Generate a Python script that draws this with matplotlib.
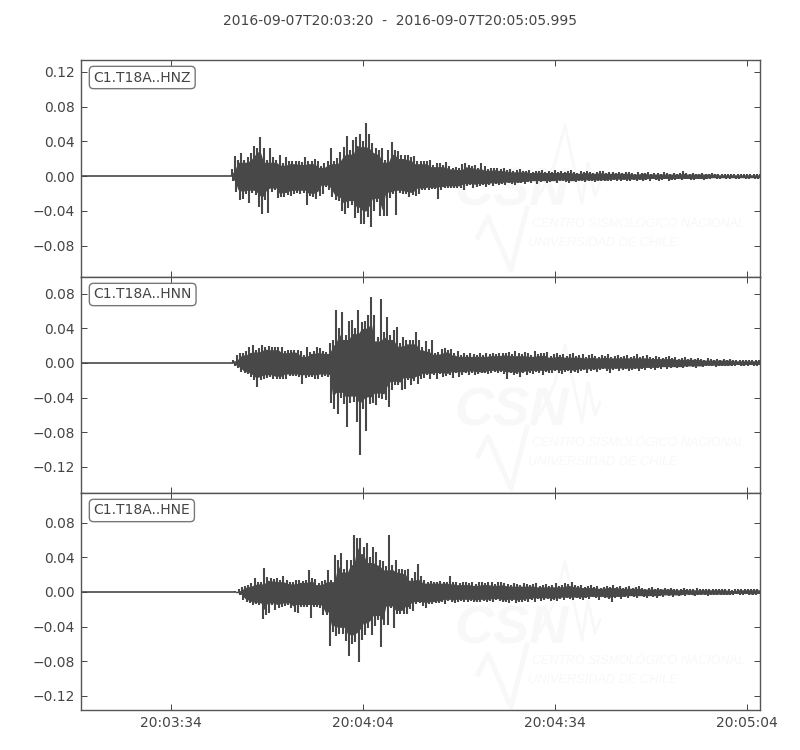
import numpy as np
import matplotlib
matplotlib.use('Agg')
import matplotlib.pyplot as plt
from matplotlib.lines import Line2D
import matplotlib.ticker as ticker

title = '2016-09-07T20:03:20  -  2016-09-07T20:05:05.995'
channels = ['C1.T18A..HNZ', 'C1.T18A..HNN', 'C1.T18A..HNE']

# peak amplitudes, in 1e-3 units, one pair every 0.5 s after onset
z_up = [8, 23, 19, 27, 19, 22, 27, 35, 33, 45, 33, 19, 33, 22, 19, 25, 15, 22, 17, 18,
        17, 18, 16, 22, 18, 17, 20, 17, 12, 15, 17, 33, 17, 21, 28, 34, 46, 30, 42, 45,
        49, 40, 61, 49, 38, 33, 30, 32, 19, 30, 39, 30, 29, 24, 25, 24, 22, 23, 17, 17,
        17, 17, 19, 13, 15, 15, 13, 16, 12, 10, 11, 9, 14, 15, 13, 12, 13, 10, 15, 12,
        8, 10, 9, 10,
        8, 9, 7, 8, 6, 7, 8, 6, 6, 7, 5, 6, 6, 7, 5, 6, 5, 7, 5, 6, 5, 6, 7, 5, 4, 6,
        5, 6, 5, 4, 5, 6, 6, 4, 5, 5, 4, 5, 4, 5, 5, 4, 3, 5, 4, 4, 5, 3, 4, 4, 3, 5,
        4, 3, 4, 3, 4, 6, 4, 3, 4, 3, 3, 4, 3, 3, 4, 3, 3, 2, 3, 3, 2, 3, 3, 2, 3, 3, 2, 3, 2, 3,
        3, 2, 3, 3, 2, 3]
z_lo = [-6, -18, -27, -26, -20, -31, -19, -22, -35, -44, -27, -42, -18, -16, -25, -24, -24, -22, -23, -20,
        -19, -20, -19, -33, -23, -24, -26, -23, -20, -12, -16, -24, -27, -29, -40, -43, -37, -33, -48, -42,
        -55, -55, -47, -58, -40, -30, -46, -46, -46, -25, -21, -45, -19, -20, -21, -24, -22, -23, -20, -16,
        -16, -16, -15, -15, -26, -16, -14, -14, -13, -14, -14, -13, -16, -11, -10, -13, -12, -11, -10, -12,
        -10, -11, -9, -10,
        -9, -10, -8, -9, -10, -8, -8, -9, -7, -8, -6, -9, -7, -6, -8, -7, -6, -8, -6, -5, -7, -8, -6, -7, -6, -5,
        -7, -5, -6, -7, -5, -6, -5, -5, -6, -4, -5, -6, -4, -5, -6, -4, -5, -4, -5, -4, -5, -3, -4, -5, -4, -3,
        -5, -4, -4, -3, -4, -3, -3, -4, -4, -3, -3, -4, -3, -3, -2, -3, -3, -2, -3, -3, -2, -3, -3, -2, -3, -3,
        -2, -3, -3, -2, -3, -2, -3, -3, -2, -3]

n_up = [3, 9, 12, 11, 14, 19, 21, 15, 17, 21, 19, 20, 18, 19, 18, 19, 14, 15, 15, 15,
        15, 14, 9, 19, 13, 14, 18, 17, 14, 13, 23, 27, 61, 40, 59, 32, 48, 50, 40, 61,
        47, 48, 55, 76, 55, 30, 74, 36, 53, 32, 38, 42, 23, 30, 27, 26, 27, 36, 26, 18,
        25, 16, 26, 12, 13, 16, 17, 15, 16, 11, 14, 9, 12, 9, 11, 10, 9, 11, 9, 11, 10, 12, 10, 11,
        12, 11, 13, 10, 14, 11, 10, 13, 12, 9, 14, 10, 12, 11, 13, 8, 10, 12, 9, 10, 8, 10,
        11, 8, 9, 10, 7, 9, 10, 8, 7, 9, 8, 10, 7, 8, 9, 7, 8, 9, 7, 8, 10, 7, 8, 9, 7, 6,
        8, 7, 6, 7, 8, 6, 7, 5, 6, 7, 5, 6, 5, 6, 5, 4, 6, 5, 4, 5, 4, 5, 4, 5, 4, 3, 4, 4, 3, 4,
        4, 3, 4, 3, 4, 3, 3, 4, 3, 3]
n_lo = [-3, -6, -10, -12, -13, -16, -20, -28, -20, -19, -17, -16, -19, -18, -19, -18, -19, -15, -15, -15,
        -16, -24, -17, -16, -16, -18, -19, -16, -15, -16, -46, -53, -59, -40, -47, -74, -46, -45, -68, -106,
        -53, -79, -47, -46, -49, -41, -42, -43, -51, -31, -25, -26, -31, -30, -20, -25, -21, -24, -18, -17,
        -14, -18, -14, -18, -13, -16, -15, -14, -17, -12, -16, -14, -12, -14, -11, -14, -13, -12, -12, -13, -11, -10, -12, -10,
        -13, -18, -12, -14, -13, -16, -12, -14, -11, -13, -10, -12, -14, -10, -12, -11, -9, -11, -13, -10, -9, -11,
        -10, -12, -9, -8, -11, -9, -8, -10, -8, -7, -9, -11, -8, -7, -9, -8, -7, -9, -8, -7, -9, -7, -8, -6, -7, -8,
        -6, -7, -5, -7, -6, -5, -6, -5, -6, -5, -4, -5, -6, -4, -5, -4, -3, -4, -5, -3, -4, -3, -3, -4, -3, -2, -3, -3,
        -3, -2, -3, -3, -2, -3, -3, -2, -3, -2]

e_up = [1, 3, 6, 7, 8, 10, 16, 12, 11, 28, 17, 16, 15, 16, 14, 18, 14, 12, 11, 14,
        14, 13, 14, 25, 16, 15, 10, 13, 14, 25, 14, 43, 37, 45, 27, 37, 37, 66, 62, 62,
        52, 57, 40, 52, 46, 37, 36, 30, 66, 31, 37, 27, 27, 25, 27, 16, 23, 32, 18, 14,
        12, 13, 12, 12, 13, 12, 12, 18, 11, 12, 10, 11, 12, 10, 11, 9, 11, 12, 10, 11, 12, 9, 11, 12,
        10, 9, 8, 10, 9, 8, 10, 9, 8, 9, 10, 7, 8, 9, 7, 8, 10, 7, 8, 10, 9, 11, 8, 7,
        8, 6, 7, 8, 6, 7, 5, 6, 7, 6, 8, 6, 7, 5, 6, 7, 5, 6, 7, 5, 4, 5, 6, 4, 5, 4,
        5, 4, 5, 4, 3, 4, 5, 4, 3, 4, 5, 3, 4, 3, 4, 3, 4, 3, 3, 4, 3, 2, 4, 3, 3, 4, 3, 4,
        3, 4, 3, 3, 4, 3, 3, 4, 3, 3]
e_lo = [-1, -4, -9, -11, -13, -15, -14, -15, -31, -27, -24, -15, -21, -18, -17, -16, -15, -19, -23, -24,
        -17, -17, -17, -30, -17, -17, -18, -27, -27, -62, -46, -51, -49, -48, -57, -74, -60, -58, -81, -55,
        -50, -42, -50, -39, -32, -64, -38, -38, -19, -42, -25, -26, -25, -25, -20, -22, -14, -13, -16, -18,
        -14, -14, -13, -13, -12, -14, -10, -11, -13, -12, -10, -12, -11, -10, -12, -11, -11, -10, -12, -10, -11, -9, -10, -12,
        -11, -13, -10, -13, -11, -12, -10, -11, -9, -11, -8, -10, -9, -8, -10, -9, -10, -8, -9, -7, -8, -9, -7, -8,
        -9, -7, -8, -6, -7, -9, -6, -7, -8, -11, -7, -6, -8, -6, -7, -5, -6, -7, -5, -6, -7, -5, -6, -7, -5, -6, -4,
        -5, -6, -4, -5, -4, -5, -3, -4, -5, -4, -3, -4, -5, -3, -4, -3, -4, -3, -3, -4, -3, -2, -3, -3, -2, -3, -3,
        -3, -2, -3, -3, -2, -3, -2, -3, -3, -2]

traces_up = [z_up, n_up, e_up]
traces_lo = [z_lo, n_lo, e_lo]
onsets = [23.5, 23.8, 24.1]
ylims = [(-0.116, 0.1338), (-0.1503, 0.0994), (-0.1362, 0.1142)]
yticks = [[-0.08, -0.04, 0.0, 0.04, 0.08, 0.12],
          [-0.12, -0.08, -0.04, 0.0, 0.04, 0.08],
          [-0.12, -0.08, -0.04, 0.0, 0.04, 0.08]]
xtick_sec = [34, 64, 94, 124]  # seconds after 20:03:00, drawn against 20:03:20 start
xtick_labels = ['20:03:34', '20:04:04', '20:04:34', '20:05:04']
duration = 105.995

fg = '#444444'
trace_c = '#484848'
mark_c = '#f8f8f8'
# y offset of the watermark from each panel top, in pixels
mark_dy = [0, 3, 4]
mark_font = ['Liberation Sans', 'DejaVu Sans']

plt.rcParams['font.family'] = 'DejaVu Sans'
plt.rcParams['font.size'] = 10

fig = plt.figure(figsize=(8, 7.5), dpi=100)
fig.text(0.5, 1 - 21 / 750, title, ha='center', va='center', color=fg, fontsize=10)


def watermark(ax, dy):
    # logo position given in pixels, relative to the panel top left
    def fx(px):
        return (px - 81) / 679
    def fy(py):
        return 1 - (py + dy) / 217
    kw = dict(transform=ax.transAxes, color=mark_c, zorder=0, clip_on=True)
    ax.add_line(Line2D([fx(x) for x in [540, 555, 565, 582, 588, 595, 600]],
                       [fy(y) for y in [135, 103, 65, 143, 103, 136, 123]], lw=2, **kw))
    ax.add_line(Line2D([fx(x) for x in [478, 488, 498, 511, 527]],
                       [fy(y) for y in [177, 157, 180, 210, 148]], lw=3.5, **kw))
    ax.text(fx(454), fy(146), 'CSN', fontsize=39, fontweight='bold', style='italic', family=mark_font,
            ha='left', va='baseline', color=mark_c, transform=ax.transAxes, zorder=0)
    ax.text(fx(532), fy(164), 'CENTRO SISMOLÓGICO NACIONAL', fontsize=9, style='italic', family=mark_font,
            ha='left', va='center', color=mark_c, transform=ax.transAxes, zorder=0, clip_on=True)
    ax.text(fx(528), fy(183), 'UNIVERSIDAD DE CHILE', fontsize=9.2, style='italic', family=mark_font,
            ha='left', va='center', color=mark_c, transform=ax.transAxes, zorder=0, clip_on=True)


axes = []
for i in range(3):
    top = [60, 277, 493][i]
    bottom = [277, 493, 710][i]
    ax = fig.add_axes([81 / 800, 1 - bottom / 750, 679 / 800, (bottom - top) / 750])
    axes.append(ax)

    up = np.array(traces_up[i]) / 1000
    lo = np.array(traces_lo[i]) / 1000
    n = min(len(up), len(lo))
    up = up[:n]
    lo = lo[:n]
    t = onsets[i] + 0.5 * np.arange(n)

    # spikes at the read peaks, solid body between them
    ax.vlines(t, 0, up, color=trace_c, lw=1.5, zorder=2)
    ax.vlines(t + 0.25, lo, 0, color=trace_c, lw=1.5, zorder=2)
    body_up = 0.85 * np.minimum(np.minimum(up, np.roll(up, 1)), np.roll(up, -1))
    body_lo = 0.85 * np.maximum(np.maximum(lo, np.roll(lo, 1)), np.roll(lo, -1))
    ax.fill_between(t, body_lo, body_up, color=trace_c, lw=0, zorder=2)
    ax.plot([0, onsets[i]], [0, 0], color=trace_c, lw=1.2, zorder=2)

    watermark(ax, mark_dy[i])

    ax.set_xlim(0, duration)
    ax.set_ylim(*ylims[i])
    ax.set_yticks(yticks[i])
    ax.yaxis.set_major_formatter(ticker.FuncFormatter(lambda v, p: ('%.2f' % v).replace('-', '\u2212')))
    ax.set_xticks([s - 20 for s in xtick_sec])
    if i == 2:
        ax.set_xticklabels(xtick_labels)
    else:
        ax.set_xticklabels([])
    ax.tick_params(direction='in', top=True, right=True, length=4, width=0.7,
                   colors=fg, labelsize=10, pad=4.5)
    for sp in ax.spines.values():
        sp.set_color('#555555')
        sp.set_linewidth(1.0)
    ax.text((93.5 - 81) / 679, 1 - 17.5 / (bottom - top), channels[i], transform=ax.transAxes,
            ha='left', va='center', color=fg, fontsize=10, zorder=5,
            bbox=dict(boxstyle='round,pad=0.3', fc='white', ec='#777777', lw=1.0))

fig.savefig('out.png', dpi=100)
